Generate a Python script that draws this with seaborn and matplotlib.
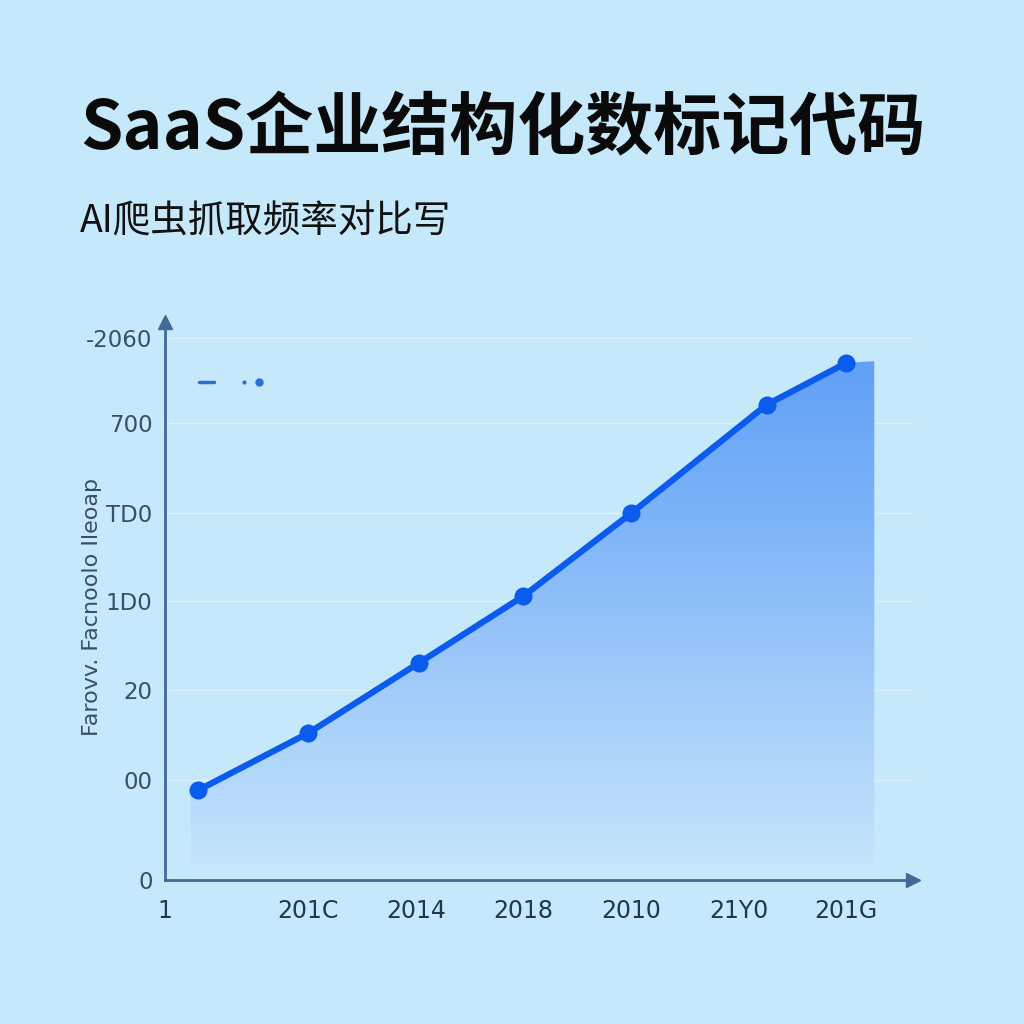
import numpy as np
import pandas as pd
import matplotlib
matplotlib.use("Agg")
import matplotlib.pyplot as plt
import seaborn as sns
from matplotlib.colors import LinearSegmentedColormap

# ---- data ----
x_pos = [-1.02, 0.0, 1.03, 2.0, 3.0, 4.26, 5.0]
values = [101, 165, 244, 319, 412, 534, 581]
x_tick_pos = [-1.33, 0, 1, 2, 3, 4, 5]
x_tick_labels = ["1", "201C", "2014", "2018", "2010", "21Y0", "201G"]
y_tick_pos = [0, 112, 213, 313, 412, 513, 609]
y_tick_labels = ["0", "00", "20", "1D0", "TD0", "700", "-2060"]
title = "SaaS企业结构化数标记代码"
subtitle = "AI爬虫抓取频率对比写"
y_label = "Farovv. Facnoolo Ileoap"

BG = "#C6E8FB"
LINE = "#0B5BEE"
AXC = "#3F6B96"

sns.set_theme(style="white")
plt.rcParams['font.family'] = ['Noto Sans CJK SC', 'DejaVu Sans']

fig = plt.figure(figsize=(10.24, 10.24), dpi=100, facecolor=BG)
ax = fig.add_axes([165/1024, 1-880/1024, (913-165)/1024, (880-322)/1024])
ax.set_facecolor(BG)

df = pd.DataFrame({"x": x_pos, "y": values})

ax.set_xlim(-1.33, 5.62)
ax.set_ylim(0, 627)

# gradient fill under the line
fx = [x_pos[0] - 0.07] + list(x_pos) + [x_pos[-1] + 0.26, x_pos[-1] + 0.26, x_pos[0] - 0.07]
fy = [values[0]] + list(values) + [values[-1] + 2, 17, 17]
poly = plt.Polygon(np.column_stack([fx, fy]), closed=True, facecolor="none", edgecolor="none")
ax.add_patch(poly)
cmap = LinearSegmentedColormap.from_list("g", ["#C4E4FB", "#A2CCF9", "#7DB4F8", "#5E9EF6"])
grad = np.linspace(0, 1, 256).reshape(-1, 1)
im = ax.imshow(grad, extent=[-1.33, 5.62, 17, 600], origin="lower", aspect="auto",
               cmap=cmap, zorder=1)
im.set_clip_path(poly)

# grid lines
for yt in y_tick_pos[1:]:
    ax.axhline(yt, color="#DBF0FC", lw=1.0, zorder=0.5)

sns.lineplot(data=df, x="x", y="y", ax=ax, color=LINE, lw=4.5, marker="o",
             markersize=13, markeredgewidth=0, markerfacecolor=LINE, zorder=3)

# axes styling
for s in ["top", "right"]:
    ax.spines[s].set_visible(False)
for s in ["left", "bottom"]:
    ax.spines[s].set_color(AXC)
    ax.spines[s].set_linewidth(2)
ax.plot(1, 0, ">", transform=ax.transAxes, color=AXC, markersize=10, clip_on=False)
ax.plot(0, 1, "^", transform=ax.transAxes, color=AXC, markersize=10, clip_on=False)

ax.set_xticks(x_tick_pos)
ax.set_xticklabels(x_tick_labels, fontsize=17, color="#22364F", family=['DejaVu Sans'])
ax.set_yticks(y_tick_pos)
ax.set_yticklabels(y_tick_labels, fontsize=16.5, color="#3A4E66", family=['DejaVu Sans'])
ax.tick_params(axis="x", length=6, width=1.2, color=AXC, direction="inout", pad=11)
ax.tick_params(axis="y", length=0, pad=9)
ax.xaxis.get_major_ticks()[0].tick1line.set_visible(False)
ax.set_xlabel("")
ax.set_ylabel(y_label, fontsize=16, color="#3A4E66", family=['DejaVu Sans'])
ax.yaxis.set_label_coords(-0.084, 0.49)

# faint legend marks
ax.plot([0.045, 0.065], [0.892, 0.892], transform=ax.transAxes, color="#2F6FD0", lw=2.5)
ax.plot([0.105], [0.892], "o", transform=ax.transAxes, color="#2F6FD0", markersize=2)
ax.plot([0.125], [0.892], "o", transform=ax.transAxes, color="#2F6FD0", markersize=5)

fig.text(80/1024, 1-130/1024, title, fontsize=49, fontweight="black", color="#0A0A0A",
         va="center", ha="left")
fig.text(80/1024, 1-222/1024, subtitle, fontsize=27, color="#111111",
         va="center", ha="left")

fig.savefig("out.png", dpi=100, facecolor=BG)
